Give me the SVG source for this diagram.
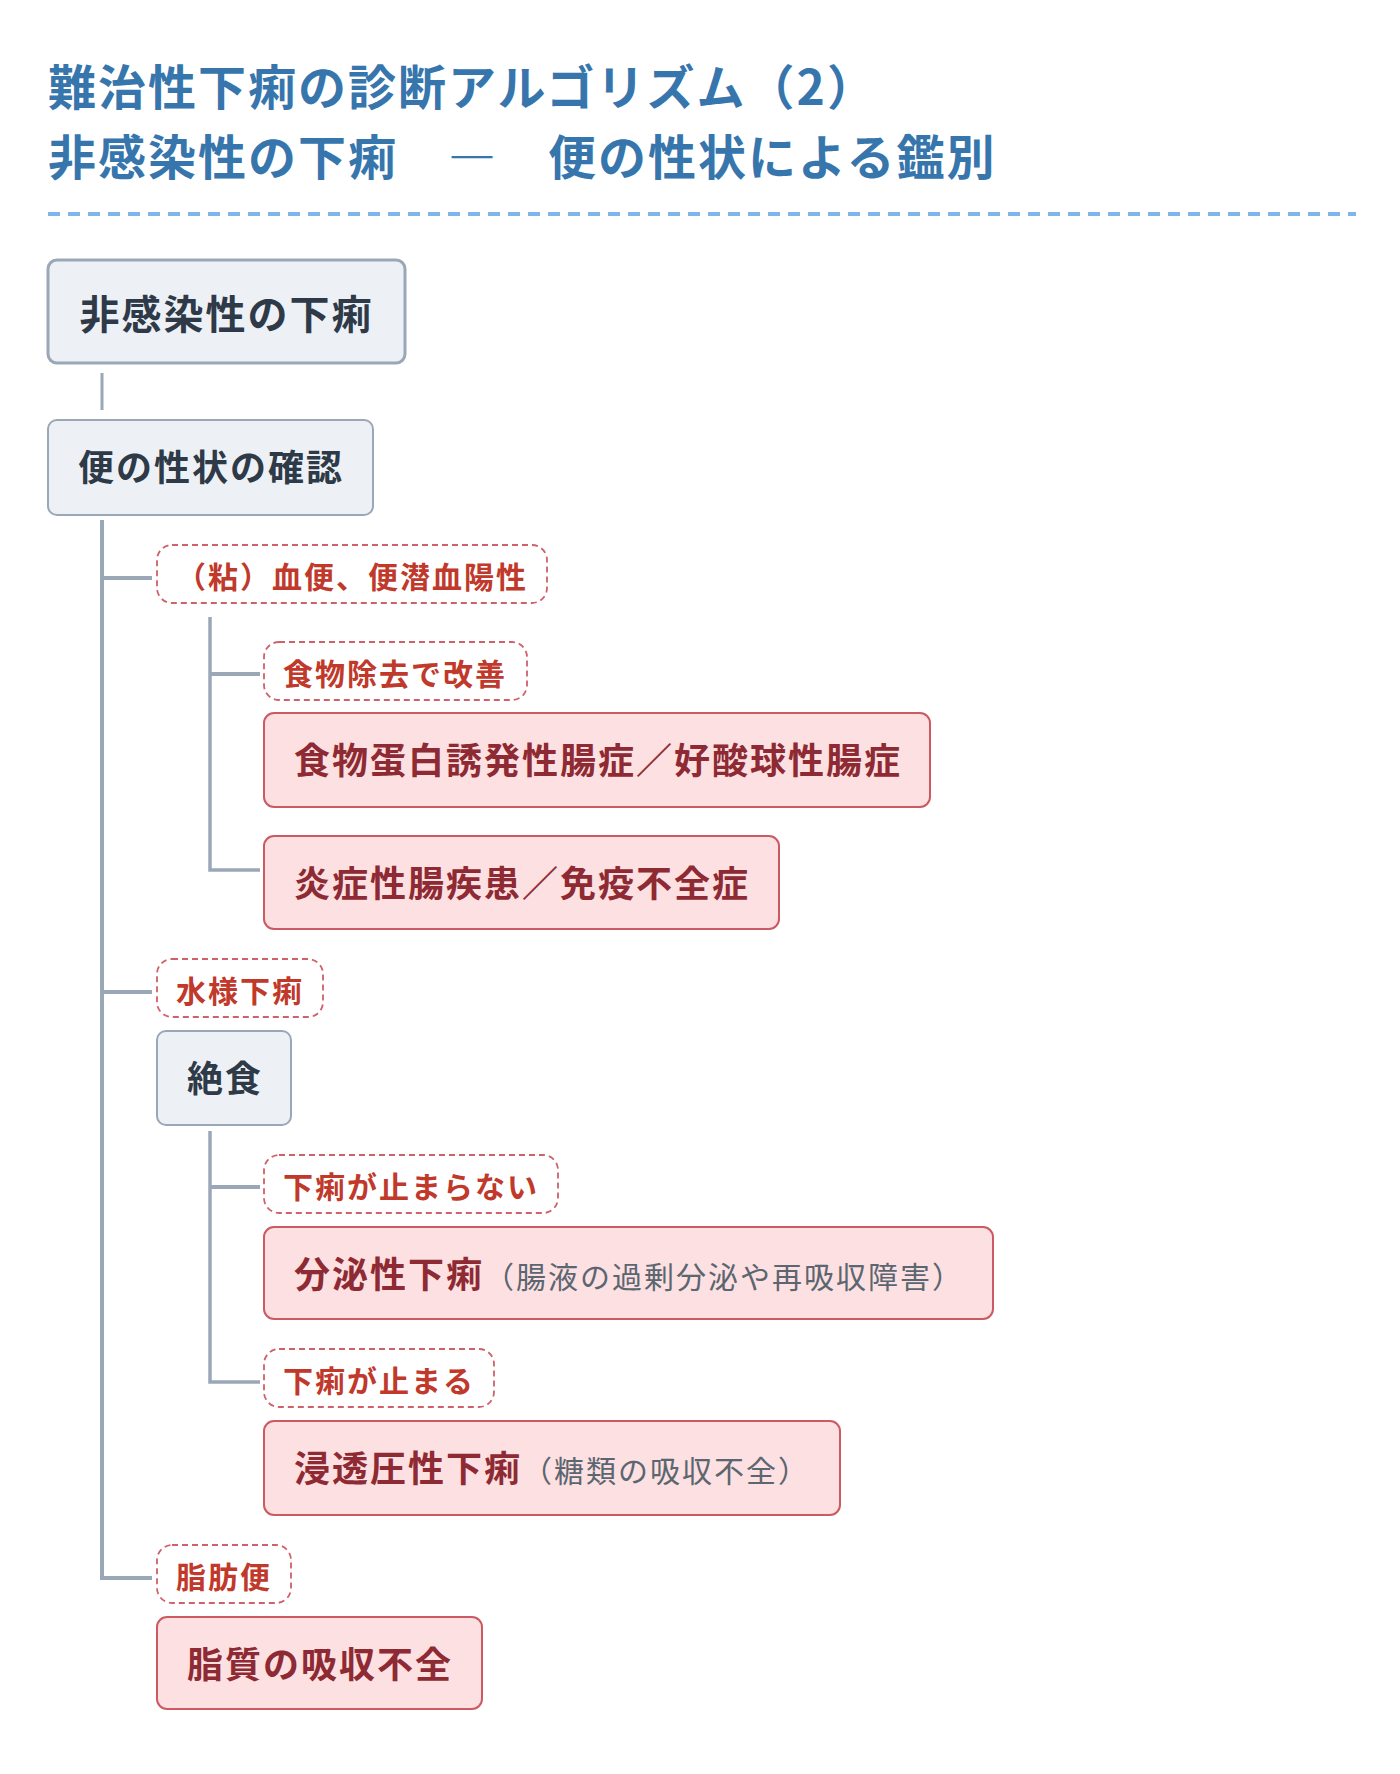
<svg xmlns="http://www.w3.org/2000/svg" width="1400" height="1774" viewBox="0 0 1400 1774">
<style>
text{font-family:"Noto Sans CJK JP","Noto Sans CJK SC",sans-serif;font-weight:700;letter-spacing:2px}
.title{font-size:48px;fill:#3776ad}
.grey rect{fill:#edf1f5;stroke:#9aa7b6;stroke-width:2}
.grey text{font-size:36px;fill:#2e3a48}
.lbl rect{fill:#ffffff;stroke:#d0606a;stroke-width:1.8;stroke-dasharray:6 4}
.lbl text{font-size:30px;fill:#c0392b}
.red rect{fill:#fde0e1;stroke:#cc5a62;stroke-width:2}
.red text{font-size:36px;fill:#8e2a33}
.sub{font-size:30px;font-weight:400;fill:#5b6670}
.ln{fill:none;stroke:#9aa7b6;stroke-linejoin:miter}
</style>
<g id="title">
<text class="title" x="48" y="105">難治性下痢の診断アルゴリズム（2）</text>
<text class="title" x="48" y="175">非感染性の下痢　―　便の性状による鑑別</text>
<line x1="48" y1="214" x2="1356" y2="214" stroke="#7eb6ea" stroke-width="4" stroke-dasharray="12 8"/>
</g>
<g id="connectors">
<path class="ln" stroke-width="3" d="M102 373 V410"/>
<path class="ln" stroke-width="4" d="M102 520 V1578 H152"/>
<path class="ln" stroke-width="4" d="M102 578 H152"/>
<path class="ln" stroke-width="4" d="M102 992 H152"/>
<path class="ln" stroke-width="3.5" d="M210 617 V870 H260"/>
<path class="ln" stroke-width="4" d="M210 674 H260"/>
<path class="ln" stroke-width="3.5" d="M210 1131 V1382 H260"/>
<path class="ln" stroke-width="4" d="M210 1187 H260"/>
</g>
<g id="n-noninfectious" class="grey">
<rect x="48" y="260" width="357" height="103" rx="9" style="stroke-width:3"/>
<text x="79.5" y="329" style="font-size:40px">非感染性の下痢</text>
</g>
<g id="n-stool" class="grey">
<rect x="48" y="420" width="325" height="95" rx="9"/>
<text x="78" y="481">便の性状の確認</text>
</g>
<g id="l-bloody" class="lbl">
<rect x="157" y="545" width="390" height="58" rx="15"/>
<text x="176" y="588">（粘）血便、便潜血陽性</text>
</g>
<g id="l-food" class="lbl">
<rect x="264" y="642" width="263" height="58" rx="15"/>
<text x="283" y="685">食物除去で改善</text>
</g>
<g id="r-food" class="red">
<rect x="264" y="713" width="666" height="94" rx="10"/>
<text x="294" y="774">食物蛋白誘発性腸症／好酸球性腸症</text>
</g>
<g id="r-ibd" class="red">
<rect x="264" y="836" width="515" height="93" rx="10"/>
<text x="294" y="897">炎症性腸疾患／免疫不全症</text>
</g>
<g id="l-watery" class="lbl">
<rect x="157" y="959" width="166" height="58" rx="15"/>
<text x="176" y="1002">水様下痢</text>
</g>
<g id="n-fasting" class="grey">
<rect x="157" y="1031" width="134" height="94" rx="9"/>
<text x="187" y="1092">絶食</text>
</g>
<g id="l-notstop" class="lbl">
<rect x="264" y="1155" width="294" height="58" rx="15"/>
<text x="283" y="1198">下痢が止まらない</text>
</g>
<g id="r-secretory" class="red">
<rect x="264" y="1227" width="729" height="92" rx="10"/>
<text x="294" y="1288">分泌性下痢<tspan class="sub">（腸液の過剰分泌や再吸収障害）</tspan></text>
</g>
<g id="l-stop" class="lbl">
<rect x="264" y="1349" width="230" height="58" rx="15"/>
<text x="283" y="1392">下痢が止まる</text>
</g>
<g id="r-osmotic" class="red">
<rect x="264" y="1421" width="576" height="94" rx="10"/>
<text x="294" y="1482">浸透圧性下痢<tspan class="sub">（糖類の吸収不全）</tspan></text>
</g>
<g id="l-fatty" class="lbl">
<rect x="157" y="1545" width="134" height="58" rx="15"/>
<text x="176" y="1588">脂肪便</text>
</g>
<g id="r-fat" class="red">
<rect x="157" y="1617" width="325" height="92" rx="10"/>
<text x="187" y="1678">脂質の吸収不全</text>
</g>
</svg>
